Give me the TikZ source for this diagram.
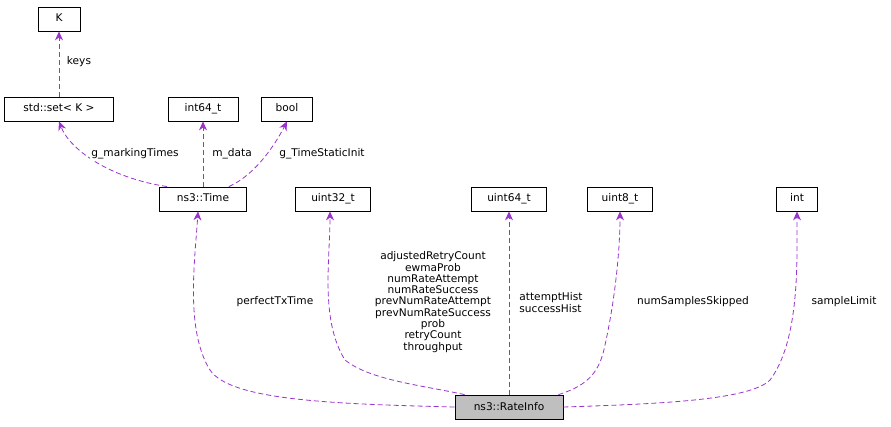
\documentclass[tikz,border=0pt]{standalone}
\usepackage{fontspec}
\setmainfont{DejaVu Sans}
\usetikzlibrary{arrows.meta}
\definecolor{edgepurple}{RGB}{154,50,205}
\definecolor{nodegray}{RGB}{191,191,191}

\begin{document}
\begin{tikzpicture}[x=1pt, y=-1pt, font=\fontsize{10.6}{12}\selectfont]
    \tikzstyle{cls} = [rectangle, draw=black, line width=0.8pt, fill=white, minimum height=24pt, inner xsep=4pt, inner ysep=0pt, text height=8pt, text depth=2pt]
    \tikzstyle{use} = [color=edgepurple, line width=0.8pt, dash pattern=on 5pt off 3pt, -{Stealth[length=9pt, width=8pt]}]
    \tikzstyle{lbl} = [align=center, fill=white, inner sep=1pt]
    \useasboundingbox (0,0) rectangle (891,427);

    % classes
    \node [cls, minimum width=42pt] (k) at (59,19) {K};
    \node [cls, minimum width=109pt] (set) at (59,109) {std::set\textless{} K \textgreater{}};
    \node [cls, minimum width=70pt] (int64) at (203,109) {int64\_t};
    \node [cls, minimum width=51pt] (bool) at (287,109) {bool};
    \node [cls, minimum width=87pt] (time) at (203,199) {ns3::Time};
    \node [cls, minimum width=75pt] (uint32) at (333,199) {uint32\_t};
    \node [cls, minimum width=75pt] (uint64) at (509,199) {uint64\_t};
    \node [cls, minimum width=65pt] (uint8) at (620,199) {uint8\_t};
    \node [cls, minimum width=41pt] (int) at (797,199) {int};
    \node [cls, minimum width=108pt, fill=nodegray] (rate) at (509,407) {ns3::RateInfo};

    % usage edges
    \draw [use] (set) -- (k);
    \node [lbl] at (79,62) {keys};
    \draw [use] (time.north west) ++(8,0) .. controls (110,178) and (70,150) .. (set.south);
    \node [lbl] at (135,154) {g\_markingTimes};
    \draw [use] (time) -- (int64);
    \node [lbl] at (232,154) {m\_data};
    \draw [use] ([xshift=-18pt]time.north east) .. controls (255,175) and (275,145) .. (bool.south);
    \node [lbl] at (322,154) {g\_TimeStaticInit};

    \draw [use] (rate.west) .. controls (330,404) and (230,400) .. (210,370) .. controls (185,330) and (195,260) .. ([xshift=-5pt]time.south);
    \node [lbl] at (275,302) {perfectTxTime};
    \draw [use] ([xshift=10pt]rate.north west) .. controls (420,385) and (370,380) .. (345,360) .. controls (320,320) and (330,260) .. ([xshift=-3pt]uint32.south);
    \node [lbl, font=\fontsize{10.6}{11.3}\selectfont] at (433,302) {adjustedRetryCount\\ewmaProb\\numRateAttempt\\numRateSuccess\\prevNumRateAttempt\\prevNumRateSuccess\\prob\\retryCount\\throughput};
    \draw [use] (rate) -- (uint64);
    \node [lbl, align=left] at (551,303) {attemptHist\\successHist};
    \draw [use] ([xshift=-5pt]rate.north east) .. controls (590,385) and (600,370) .. (605,345) .. controls (615,300) and (620,250) .. (uint8.south);
    \node [lbl] at (693,302) {numSamplesSkipped};
    \draw [use] (rate.east) .. controls (660,404) and (750,400) .. (770,380) .. controls (800,340) and (797,260) .. (int.south);
    \node [lbl] at (844,302) {sampleLimit};
\end{tikzpicture}
\end{document}
